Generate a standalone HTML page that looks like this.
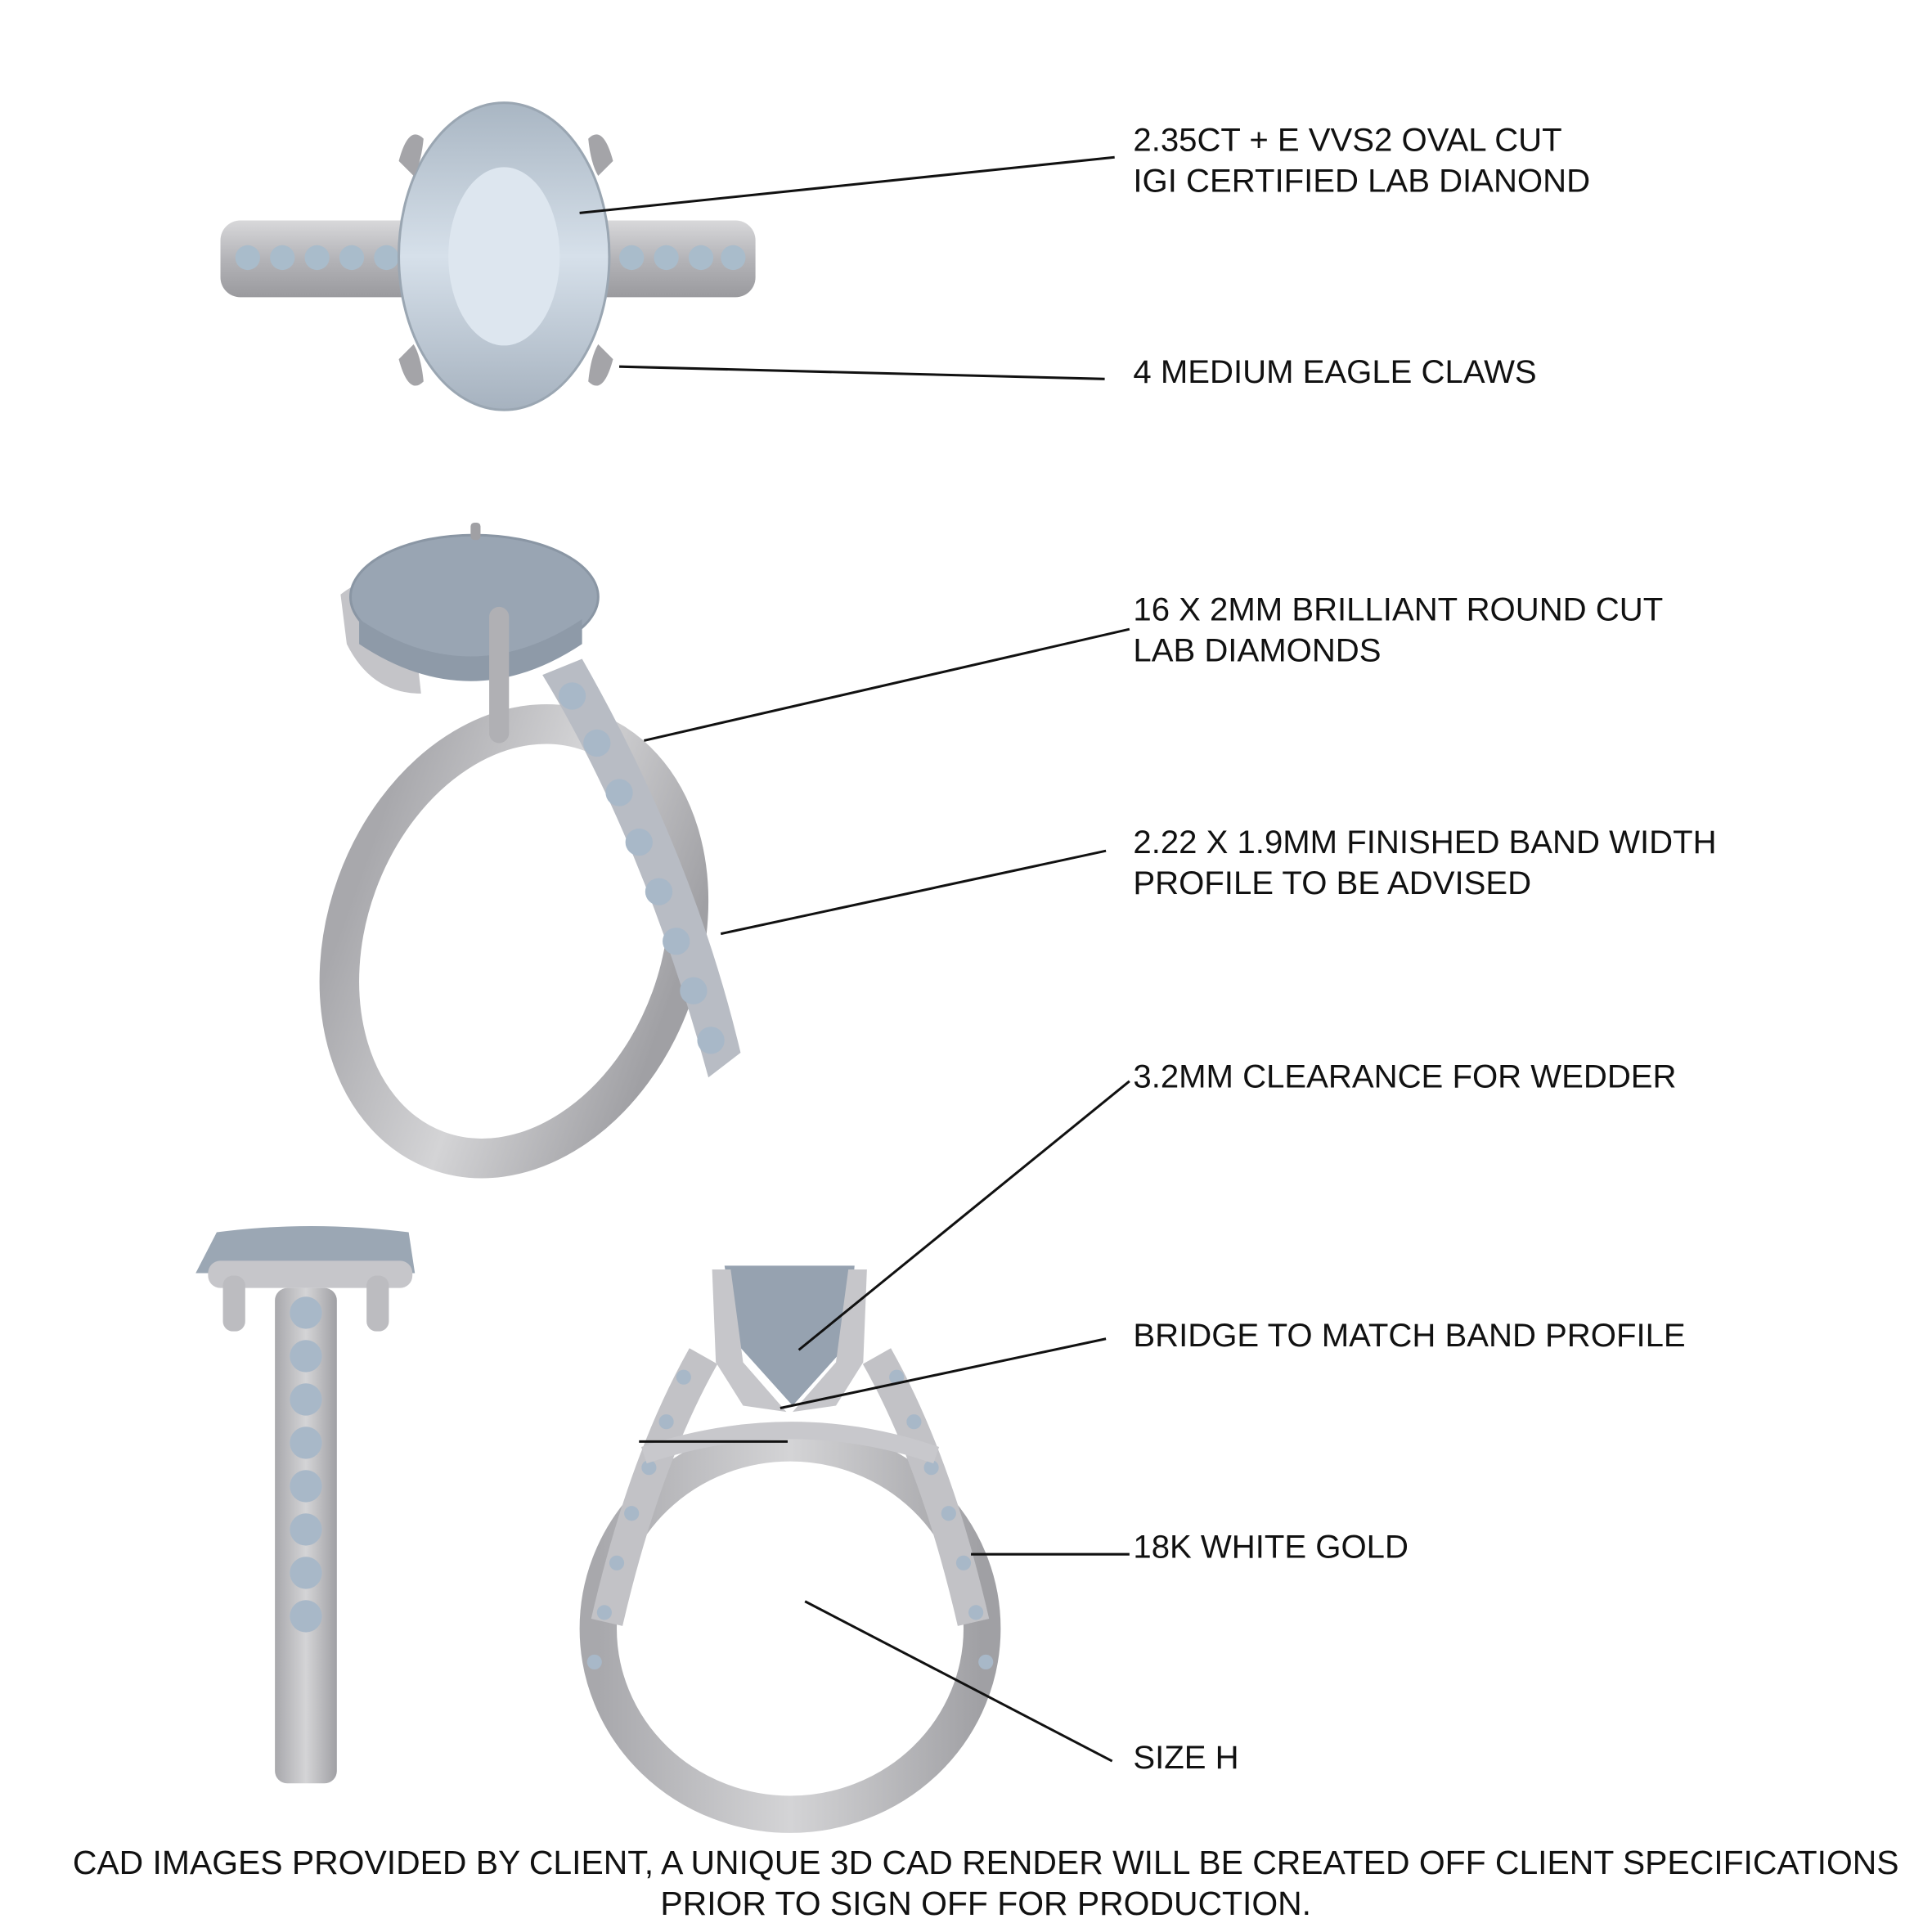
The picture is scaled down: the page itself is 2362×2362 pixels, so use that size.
<!DOCTYPE html>
<html><head><meta charset="utf-8"><style>
html,body{margin:0;padding:0;background:#fff}
svg{display:block}
text{font-family:"Liberation Sans",sans-serif;font-size:26.5px;fill:#111}
</style></head><body>
<svg width="2362" height="2362" viewBox="0 0 1560 1560" xmlns="http://www.w3.org/2000/svg">
<defs>
<linearGradient id="metal" x1="0" y1="0" x2="0" y2="1"><stop offset="0" stop-color="#d8d8da"/><stop offset="0.5" stop-color="#b4b4b8"/><stop offset="1" stop-color="#9a9a9e"/></linearGradient>
<linearGradient id="metalh" x1="0" y1="0" x2="1" y2="0"><stop offset="0" stop-color="#a8a8ac"/><stop offset="0.5" stop-color="#d4d4d6"/><stop offset="1" stop-color="#a0a0a4"/></linearGradient>
<linearGradient id="stone" x1="0" y1="0" x2="0" y2="1"><stop offset="0" stop-color="#a9b6c3"/><stop offset="0.5" stop-color="#d6e0ea"/><stop offset="1" stop-color="#a6b2bf"/></linearGradient>
</defs>
<rect width="1560" height="1560" fill="#fff"/>

<!-- TOP VIEW -->
<rect x="178" y="178" width="432" height="62" rx="16" fill="url(#metal)"/>
<g fill="#a9bccb">
<circle cx="200" cy="208" r="10"/><circle cx="228" cy="208" r="10"/><circle cx="256" cy="208" r="10"/><circle cx="284" cy="208" r="10"/><circle cx="312" cy="208" r="10"/>
<circle cx="510" cy="208" r="10"/><circle cx="538" cy="208" r="10"/><circle cx="566" cy="208" r="10"/><circle cx="592" cy="208" r="10"/>
</g>
<ellipse cx="407" cy="207" rx="85" ry="124" fill="url(#stone)" stroke="#9aa6b2" stroke-width="2"/>
<ellipse cx="407" cy="207" rx="45" ry="72" fill="#dde6ef"/>
<g fill="#a4a4a8">
<path d="M322 130 q8-30 20-18 q-2 20-8 30z"/><path d="M495 130 q-8-30-20-18 q2 20 8 30z"/>
<path d="M322 290 q8 30 20 18 q-2-20-8-30z"/><path d="M495 290 q-8 30-20 18 q2-20 8-30z"/>
</g>

<!-- 3/4 VIEW -->
<ellipse cx="415" cy="760" rx="135" ry="180" fill="none" stroke="url(#metalh)" stroke-width="32" transform="rotate(20 415 760)"/>
<path d="M438 545 Q520 680 572 870 L598 850 Q560 690 470 532 Z" fill="#b8bcc4"/>
<g fill="#a8b8c8"><circle cx="462" cy="562" r="11"/><circle cx="482" cy="600" r="11"/><circle cx="500" cy="640" r="11"/><circle cx="516" cy="680" r="11"/><circle cx="532" cy="720" r="11"/><circle cx="546" cy="760" r="11"/><circle cx="560" cy="800" r="11"/><circle cx="574" cy="840" r="11"/></g>
<path d="M275 480 Q300 460 330 470 L340 560 Q300 560 280 520 Z" fill="#c4c4c8"/>
<ellipse cx="383" cy="482" rx="100" ry="50" fill="#99a5b3" stroke="#8a96a4" stroke-width="2"/>
<path d="M290 500 Q380 560 470 500 L470 520 Q380 580 290 520 Z" fill="#8e9aa8"/>
<rect x="395" y="490" width="16" height="110" rx="8" fill="#b0b0b4"/>
<rect x="380" y="422" width="8" height="14" rx="3" fill="#a0a0a4"/>

<!-- SIDE VIEW -->
<rect x="222" y="1040" width="50" height="400" rx="10" fill="url(#metalh)"/>
<g fill="#a8b8c8"><circle cx="247" cy="1060" r="13"/><circle cx="247" cy="1095" r="13"/><circle cx="247" cy="1130" r="13"/><circle cx="247" cy="1165" r="13"/><circle cx="247" cy="1200" r="13"/><circle cx="247" cy="1235" r="13"/><circle cx="247" cy="1270" r="13"/><circle cx="247" cy="1305" r="13"/></g>
<path d="M158 1028 L175 995 Q250 985 330 995 L335 1028 Z" fill="#9ba7b4"/>
<rect x="168" y="1018" width="165" height="22" rx="10" fill="#c6c6ca"/>
<rect x="180" y="1030" width="18" height="45" rx="8" fill="#bcbcc0"/><rect x="296" y="1030" width="18" height="45" rx="8" fill="#bcbcc0"/>

<!-- FRONT VIEW -->
<ellipse cx="638" cy="1315" rx="155" ry="150" fill="none" stroke="url(#metalh)" stroke-width="30"/>
<path d="M568 1095 Q520 1180 490 1310" fill="none" stroke="#c2c2c6" stroke-width="26"/>
<path d="M708 1095 Q756 1180 786 1310" fill="none" stroke="#c2c2c6" stroke-width="26"/>
<g fill="#a8b8c8"><circle cx="552" cy="1112" r="6"/><circle cx="538" cy="1148" r="6"/><circle cx="524" cy="1185" r="6"/><circle cx="510" cy="1222" r="6"/><circle cx="498" cy="1262" r="6"/><circle cx="488" cy="1302" r="6"/><circle cx="480" cy="1342" r="6"/>
<circle cx="724" cy="1112" r="6"/><circle cx="738" cy="1148" r="6"/><circle cx="752" cy="1185" r="6"/><circle cx="766" cy="1222" r="6"/><circle cx="778" cy="1262" r="6"/><circle cx="788" cy="1302" r="6"/><circle cx="796" cy="1342" r="6"/></g>
<path d="M520 1175 Q640 1135 756 1175" fill="none" stroke="#c8c8cc" stroke-width="14"/>
<path d="M585 1022 L690 1022 L685 1085 L640 1135 L595 1085 Z" fill="#96a2b0"/>
<path d="M575 1025 L590 1025 L600 1100 L635 1140 L600 1135 L578 1100 Z" fill="#c6c6ca"/>
<path d="M700 1025 L685 1025 L675 1100 L640 1140 L675 1135 L697 1100 Z" fill="#c6c6ca"/>

<!-- LEADERS -->
<g stroke="#111" stroke-width="2" fill="none">
<line x1="468" y1="172" x2="900" y2="127"/>
<line x1="500" y1="296" x2="892" y2="306"/>
<line x1="520" y1="598" x2="912" y2="508"/>
<line x1="582" y1="754" x2="893" y2="687"/>
<line x1="645" y1="1090" x2="912" y2="873"/>
<line x1="630" y1="1137" x2="893" y2="1081"/>
<line x1="516" y1="1164" x2="636" y2="1164"/>
<line x1="784" y1="1255" x2="912" y2="1255"/>
<line x1="650" y1="1293" x2="898" y2="1422"/>
</g>

<!-- TEXT -->
<text x="915" y="122">2.35CT + E VVS2 OVAL CUT</text>
<text x="915" y="155">IGI CERTIFIED LAB DIANOND</text>
<text x="915" y="309">4 MEDIUM EAGLE CLAWS</text>
<text x="915" y="501">16 X 2MM BRILLIANT ROUND CUT</text>
<text x="915" y="534">LAB DIAMONDS</text>
<text x="915" y="689">2.22 X 1.9MM FINISHED BAND WIDTH</text>
<text x="915" y="722">PROFILE TO BE ADVISED</text>
<text x="915" y="878">3.2MM CLEARANCE FOR WEDDER</text>
<text x="915" y="1087">BRIDGE TO MATCH BAND PROFILE</text>
<text x="915" y="1258">18K WHITE GOLD</text>
<text x="915" y="1428">SIZE H</text>
<text x="796" y="1513" text-anchor="middle" style="font-size:27px">CAD IMAGES PROVIDED BY CLIENT, A UNIQUE 3D CAD RENDER WILL BE CREATED OFF CLIENT SPECIFICATIONS</text>
<text x="796" y="1546" text-anchor="middle" style="font-size:27px">PRIOR TO SIGN OFF FOR PRODUCTION.</text>
</svg>
</body></html>
